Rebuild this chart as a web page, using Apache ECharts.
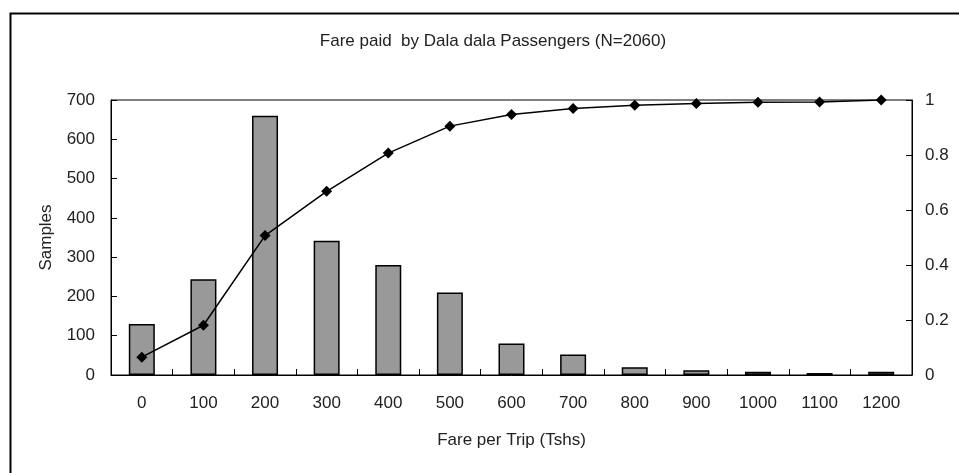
<!DOCTYPE html>
<html>
<head>
<meta charset="utf-8">
<script src="https://cdn.jsdelivr.net/npm/echarts@6/dist/echarts.min.js"></script>
<style>
  html, body { margin: 0; padding: 0; background: #fff; }
  #chart { width: 959px; height: 473px; }
</style>
</head>
<body>
<div id="chart"></div>
<script>
// Fare categories (Tshs per trip)
const fares = ['0', '100', '200', '300', '400', '500', '600', '700', '800', '900', '1000', '1100', '1200'];
// Number of passengers paying each fare
const samples = [130, 244, 660, 342, 280, 210, 80, 52, 20, 12, 8, 5, 8];
// Cumulative share of passengers
const cumulative = [0.065, 0.181, 0.507, 0.668, 0.807, 0.905, 0.947, 0.969, 0.981, 0.987, 0.992, 0.993, 1.0];

const FONT = '"Liberation Sans", Arial, sans-serif';
const TEXT = '#222';
const SIZE = 17;

const chart = echarts.init(document.getElementById('chart'), null, { renderer: 'canvas' });

chart.setOption({
  animation: false,
  backgroundColor: '#fff',
  title: {
    text: 'Fare paid  by Dala dala Passengers (N=2060)',
    left: 488,
    top: 28,
    textAlign: 'center',
    textStyle: { fontFamily: FONT, fontSize: SIZE, fontWeight: 'normal', color: TEXT }
  },
  graphic: [{
    type: 'rect',
    left: 8,
    top: 11,
    shape: { width: 1000, height: 500 },
    style: { fill: 'none', stroke: '#000', lineWidth: 2 },
    silent: true
  }],
  grid: {
    left: 111,
    right: 47,
    top: 100,
    bottom: 98,
    show: true,
    borderColor: '#000',
    borderWidth: 1,
    backgroundColor: 'transparent'
  },
  xAxis: {
    type: 'category',
    data: fares,
    boundaryGap: true,
    name: 'Fare per Trip (Tshs)',
    nameLocation: 'middle',
    nameGap: 57,
    nameTextStyle: { fontFamily: FONT, fontSize: SIZE, color: TEXT },
    axisLine: { lineStyle: { color: '#000', width: 1 } },
    axisTick: { show: true, inside: true, length: 6, alignWithLabel: false, lineStyle: { color: '#000' } },
    axisLabel: { fontFamily: FONT, fontSize: SIZE, color: TEXT, margin: 20 },
    splitLine: { show: false }
  },
  yAxis: [{
    type: 'value',
    min: 0,
    max: 700,
    interval: 100,
    name: 'Samples',
    nameLocation: 'middle',
    nameGap: 56,
    nameTextStyle: { fontFamily: FONT, fontSize: SIZE, color: TEXT },
    axisLine: { show: true, lineStyle: { color: '#000' } },
    axisTick: { show: true, inside: true, length: 6, lineStyle: { color: '#000' } },
    axisLabel: { fontFamily: FONT, fontSize: SIZE, color: TEXT, margin: 16 },
    splitLine: { show: false }
  }, {
    type: 'value',
    min: 0,
    max: 1,
    interval: 0.2,
    position: 'right',
    axisLine: { show: true, lineStyle: { color: '#000' } },
    axisTick: { show: true, inside: true, length: 6, lineStyle: { color: '#000' } },
    axisLabel: { fontFamily: FONT, fontSize: SIZE, color: TEXT, margin: 13 },
    splitLine: { show: false }
  }],
  series: [{
    name: 'Samples',
    type: 'bar',
    data: samples,
    yAxisIndex: 0,
    barWidth: 26,
    itemStyle: { color: '#999999', borderColor: '#000', borderWidth: 1.5 }
  }, {
    name: 'Cumulative',
    type: 'line',
    data: cumulative,
    yAxisIndex: 1,
    symbol: 'diamond',
    symbolSize: 11,
    itemStyle: { color: '#000' },
    lineStyle: { color: '#000', width: 1.5 },
    z: 5
  }]
});
</script>
</body>
</html>
